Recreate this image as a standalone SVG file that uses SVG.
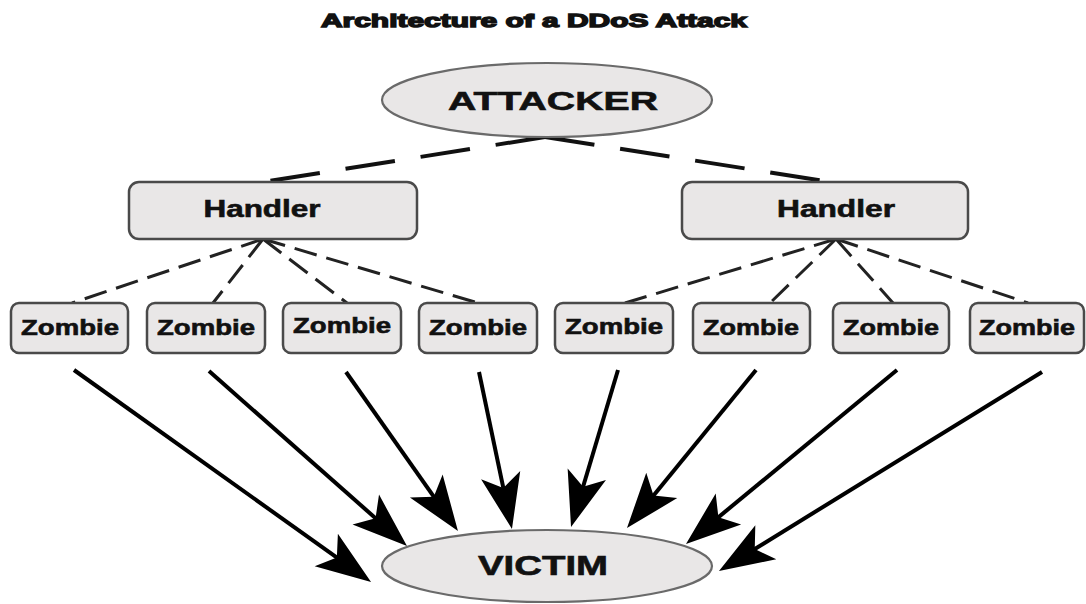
<svg xmlns="http://www.w3.org/2000/svg" width="1086" height="604" viewBox="0 0 1086 604">
  <style>
    .box { fill: #e9e7e7; stroke: #4a4a4a; stroke-width: 2.5; }
    .oval { fill: #e9e7e7; stroke: #6a6a6a; stroke-width: 2.2; }
    .lbl { font-family: "Liberation Sans", Arial, sans-serif; font-weight: bold; fill: #111; text-anchor: middle; stroke: #111; stroke-width: 0.6; }
    .title { font-family: "Liberation Sans", Arial, sans-serif; font-weight: bold; fill: #111; stroke: #111; stroke-width: 1.4; text-anchor: middle; }
    .ctl { fill: none; stroke: #111; stroke-width: 4; stroke-dasharray: 50 26; }
    .sub { fill: none; stroke: #222; stroke-width: 3; stroke-dasharray: 23 10; }
    .hit { fill: none; stroke: #000; stroke-width: 4; marker-end: url(#head); }
  </style>
  <defs>
    <marker id="head" markerUnits="userSpaceOnUse" viewBox="-48 -22 60 44" markerWidth="60" markerHeight="44" refX="0" refY="0" orient="auto">
      <path d="M10,0 L-45,-20 L-32,0 L-45,20 Z" fill="#000"/>
    </marker>
  </defs>

  <rect width="1086" height="604" fill="#ffffff"/>

  <text class="title" x="534" y="27" font-size="19" textLength="426" lengthAdjust="spacingAndGlyphs">Architecture of a DDoS Attack</text>

  <!-- connectors -->
  <g id="connectors">
    <path class="ctl" d="M545,137 L263,182"/>
    <path class="ctl" d="M545,137 L831,182"/>

    <path class="sub" d="M263,239 L72,303"/>
    <path class="sub" d="M263,239 L213,303"/>
    <path class="sub" d="M263,239 L347,303"/>
    <path class="sub" d="M263,239 L478,303"/>

    <path class="sub" d="M836,239 L625,303"/>
    <path class="sub" d="M836,239 L770,303"/>
    <path class="sub" d="M836,239 L893,303"/>
    <path class="sub" d="M836,239 L1028,303"/>

    <path class="hit" d="M74,370 L362.9,576.2"/>
    <path class="hit" d="M209,371 L399.5,539.4"/>
    <path class="hit" d="M346,372 L452.2,522.8"/>
    <path class="hit" d="M479,372 L509.9,519.2"/>
    <path class="hit" d="M618,370 L573.9,517.4"/>
    <path class="hit" d="M756,370 L633.3,520.3"/>
    <path class="hit" d="M897,370 L693.7,537.6"/>
    <path class="hit" d="M1042,372 L727.5,565.8"/>
  </g>

  <g id="attacker">
    <ellipse class="oval" cx="547" cy="100" rx="165" ry="37"/>
    <text class="lbl" x="553" y="110" font-size="26" textLength="210" lengthAdjust="spacingAndGlyphs">ATTACKER</text>
  </g>

  <g id="handler-left">
    <rect class="box" x="129" y="182" width="288" height="57" rx="10"/>
    <text class="lbl" x="262" y="217" font-size="23" textLength="117" lengthAdjust="spacingAndGlyphs">Handler</text>
  </g>
  <g id="handler-right">
    <rect class="box" x="682" y="182" width="286" height="57" rx="10"/>
    <text class="lbl" x="836" y="217" font-size="23" textLength="118" lengthAdjust="spacingAndGlyphs">Handler</text>
  </g>

  <g id="zombie-1"><rect class="box" x="11" y="303" width="117" height="50" rx="8"/><text class="lbl" x="70" y="335" font-size="22" textLength="98" lengthAdjust="spacingAndGlyphs">Zombie</text></g>
  <g id="zombie-2"><rect class="box" x="147" y="303" width="118" height="50" rx="8"/><text class="lbl" x="206" y="335" font-size="22" textLength="98" lengthAdjust="spacingAndGlyphs">Zombie</text></g>
  <g id="zombie-3"><rect class="box" x="283" y="303" width="118" height="50" rx="8"/><text class="lbl" x="342" y="333" font-size="22" textLength="98" lengthAdjust="spacingAndGlyphs">Zombie</text></g>
  <g id="zombie-4"><rect class="box" x="419" y="303" width="118" height="50" rx="8"/><text class="lbl" x="478" y="335" font-size="22" textLength="98" lengthAdjust="spacingAndGlyphs">Zombie</text></g>
  <g id="zombie-5"><rect class="box" x="555" y="303" width="118" height="50" rx="8"/><text class="lbl" x="614" y="334" font-size="22" textLength="98" lengthAdjust="spacingAndGlyphs">Zombie</text></g>
  <g id="zombie-6"><rect class="box" x="693" y="303" width="117" height="50" rx="8"/><text class="lbl" x="751" y="335" font-size="22" textLength="96" lengthAdjust="spacingAndGlyphs">Zombie</text></g>
  <g id="zombie-7"><rect class="box" x="833" y="303" width="116" height="50" rx="8"/><text class="lbl" x="891" y="335" font-size="22" textLength="96" lengthAdjust="spacingAndGlyphs">Zombie</text></g>
  <g id="zombie-8"><rect class="box" x="970" y="303" width="114" height="50" rx="8"/><text class="lbl" x="1027" y="335" font-size="22" textLength="96" lengthAdjust="spacingAndGlyphs">Zombie</text></g>

  <g id="victim">
    <ellipse class="oval" cx="547" cy="566" rx="165" ry="36"/>
    <text class="lbl" x="543" y="575" font-size="27" textLength="130" lengthAdjust="spacingAndGlyphs">VICTIM</text>
  </g>
</svg>
